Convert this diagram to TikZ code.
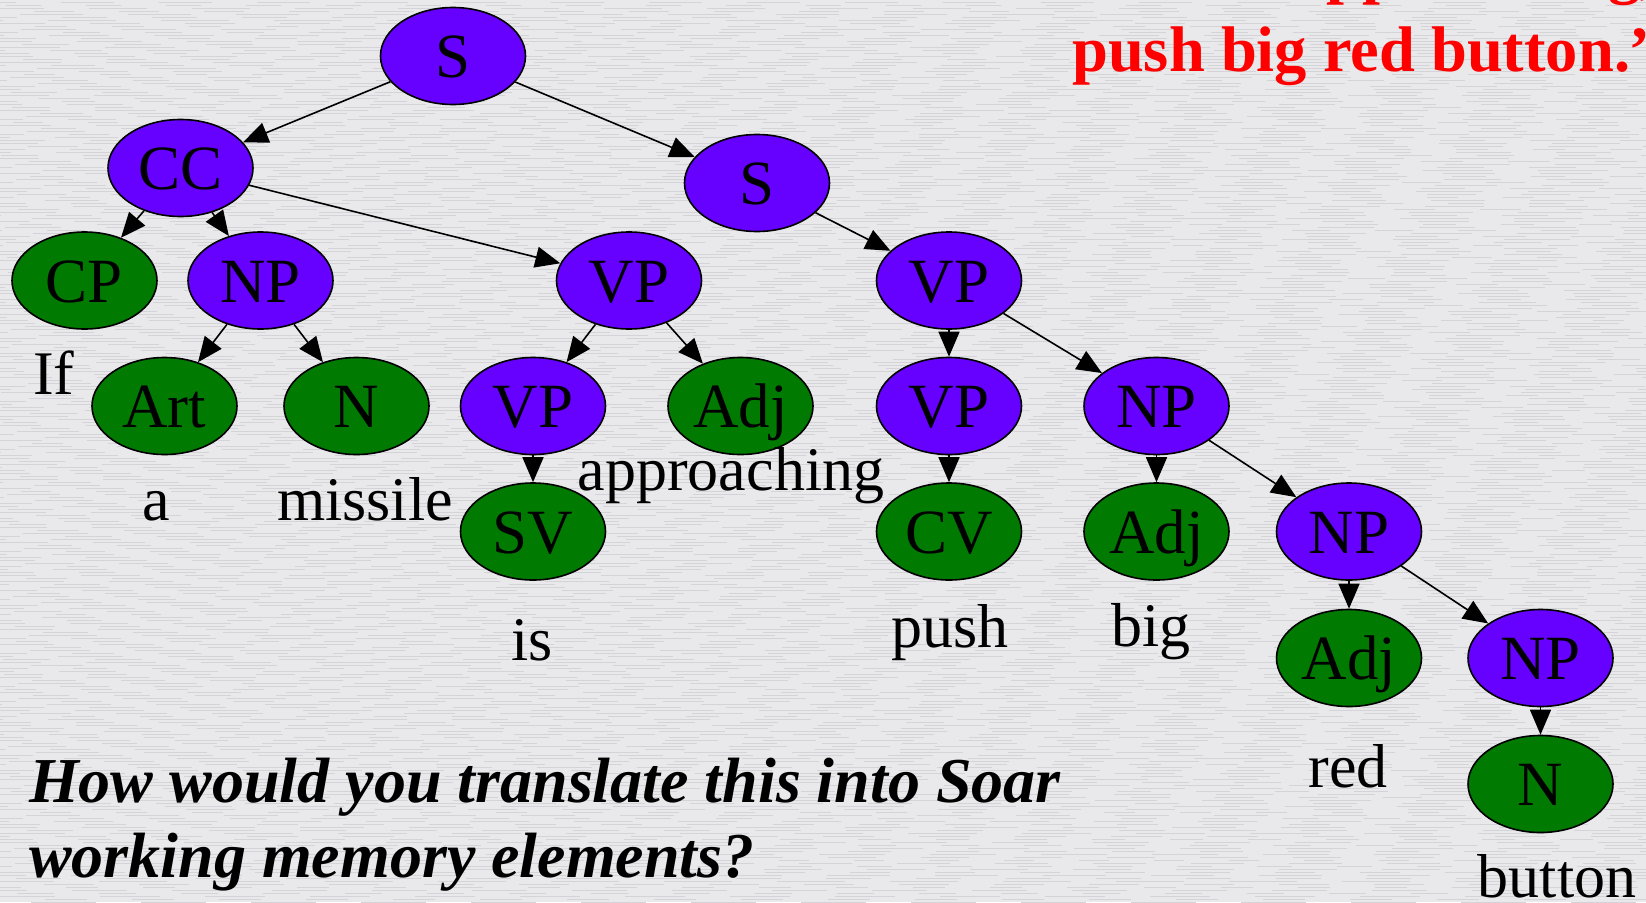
\documentclass[tikz,border=0pt]{standalone}
\usepackage{fontspec}
\setmainfont{Liberation Serif}
\usetikzlibrary{shapes.geometric,arrows.meta}
\definecolor{bg}{RGB}{233,233,235}
\definecolor{bgdark}{RGB}{212,212,216}
\definecolor{pur}{RGB}{102,0,255}
\definecolor{grn}{RGB}{0,122,0}
\definecolor{redtxt}{RGB}{255,0,0}
\begin{document}
\begin{tikzpicture}[x=1pt,y=-1pt,
  tn/.style={ellipse,draw=black,line width=1.6pt,minimum width=145pt,minimum height=97pt,
    inner sep=0pt,text height=43pt,text depth=0pt,font=\fontsize{63}{70}\selectfont},
  ph/.style={tn,fill=pur},
  lf/.style={tn,fill=grn},
  word/.style={anchor=base,inner sep=0pt,font=\fontsize{62}{70}\selectfont},
  conn/.style={-{Triangle[length=25pt,width=21pt]},line width=1.6pt},
  streak/.style={draw=bgdark,line width=1pt}
]
\fill[bg] (0,0) rectangle (1646,902);
\useasboundingbox (0,0) rectangle (1646,902);
\clip (0,0) rectangle (1646,902);
% background streak texture
\foreach \yy [count=\k] in {2,5,...,902} {
  \pgfmathsetmacro{\ph}{mod(\k*37,97)}
  \pgfmathsetmacro{\on}{30+mod(\k*23,41)}
  \draw[streak,dash pattern=on \on pt off 45pt,dash phase=\ph pt] (0,\yy) -- (1646,\yy);
}

% red title fragment
\node[anchor=base west,inner sep=0pt,text=redtxt,font=\fontsize{64.5}{70}\selectfont\bfseries] (t0) at (1294,-9) {approaching,};
\node[anchor=base west,inner sep=0pt,text=redtxt,font=\fontsize{64.5}{70}\selectfont\bfseries] (t1) at (1072,71) {push big red button.”};

% tree nodes
\node[ph] (s1) at (453,56) {S};
\node[ph] (cc) at (180.5,168) {CC};
\node[ph] (s2) at (757,183) {S};
\node[lf] (cp) at (84.5,280.5) {CP};
\node[ph] (np1) at (260.5,280.5) {NP};
\node[ph] (vp1) at (629,280.5) {VP};
\node[ph] (vp2) at (949,280.5) {VP};
\node[lf] (art) at (164.5,406) {Art};
\node[lf] (n1) at (356.5,406) {N};
\node[ph] (vp3) at (533,406) {VP};
\node[lf] (adj1) at (740.5,406) {Adj};
\node[ph] (vp4) at (949,406) {VP};
\node[ph] (np2) at (1156.5,406) {NP};
\node[lf] (sv) at (533,531.5) {SV};
\node[lf] (cv) at (949,531.5) {CV};
\node[lf] (adj2) at (1156.5,531.5) {Adj};
\node[ph] (np3) at (1349,531.5) {NP};
\node[lf] (adj3) at (1349,658) {Adj};
\node[ph] (np4) at (1540.5,658) {NP};
\node[lf] (n2) at (1540.5,784) {N};

% edges
\draw[conn] (s1) -- (cc);
\draw[conn] (s1) -- (s2);
\draw[conn] (cc) -- (cp);
\draw[conn] (cc) -- (np1);
\draw[conn] (cc) -- (vp1);
\draw[conn] (np1) -- (art);
\draw[conn] (np1) -- (n1);
\draw[conn] (vp1) -- (vp3);
\draw[conn] (vp1) -- (adj1);
\draw[conn] (vp3) -- (sv);
\draw[conn] (s2) -- (vp2);
\draw[conn] (vp2) -- (vp4);
\draw[conn] (vp2) -- (np2);
\draw[conn] (vp4) -- (cv);
\draw[conn] (np2) -- (adj2);
\draw[conn] (np2) -- (np3);
\draw[conn] (np3) -- (adj3);
\draw[conn] (np3) -- (np4);
\draw[conn] (np4) -- (n2);

% words
\node[word,anchor=base west] (wif) at (33,394) {If};
\node[word] (wa) at (156,520) {a};
\node[word] (wmissile) at (365,520) {missile};
\node[word] (wappr) at (731,490) {approaching};
\node[word] (wis) at (532,660) {is};
\node[word] (wpush) at (950,647) {push};
\node[word] (wbig) at (1151,646) {big};
\node[word] (wred) at (1348,787) {red};
\node[word] (wbutton) at (1557,897) {button};

% question
\node[anchor=base west,inner sep=0pt,font=\fontsize{64}{70}\selectfont\bfseries\itshape] (q1) at (29,802) {How would you translate this into Soar};
\node[anchor=base west,inner sep=0pt,font=\fontsize{64}{70}\selectfont\bfseries\itshape] (q2) at (29,877) {working memory elements?};
\end{tikzpicture}
\end{document}
